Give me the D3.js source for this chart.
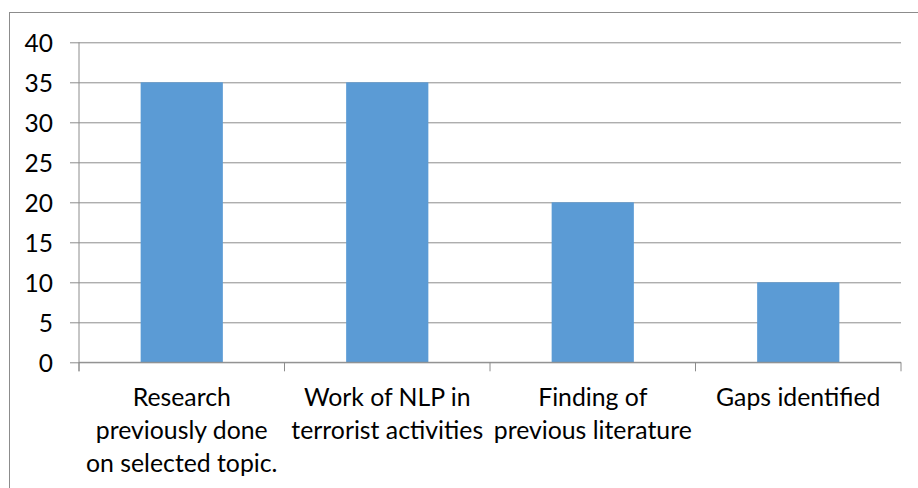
<!DOCTYPE html>
<html>
<head>
<meta charset="utf-8">
<script src="https://cdn.jsdelivr.net/npm/d3@7"></script>
<style>
  html, body { margin: 0; padding: 0; background: #fff; }
  svg { display: block; }
</style>
</head>
<body>
<svg id="chart" width="918" height="488"></svg>
<script>
const categories = [
  "Research previously done on selected topic.",
  "Work of NLP in terrorist activities",
  "Finding of previous literature",
  "Gaps identified"
];
const categoryLabelLines = [
  ["Research", "previously done", "on selected topic."],
  ["Work of NLP in", "terrorist activities"],
  ["Finding of", "previous literature"],
  ["Gaps identified"]
];
const values = [35, 35, 20, 10];
const yTicks = [0, 5, 10, 15, 20, 25, 30, 35, 40];

const svg = d3.select("#chart");
const plot = { left: 79, right: 901, top: 42.3, bottom: 362.3 };
const font = "Lato, 'Open Sans', sans-serif";
const gridColor = "#8c8c8c";

// outer frame (cropped on right & bottom in the reference)
svg.append("rect")
  .attr("x", 9.5).attr("y", 12.5)
  .attr("width", 1200).attr("height", 1200)
  .attr("fill", "#fff")
  .attr("stroke", "#8c8c8c").attr("stroke-width", 1);

const x = d3.scaleBand()
  .domain(categories)
  .range([plot.left, plot.right])
  .paddingInner(0.6)
  .paddingOuter(0.3);

const y = d3.scaleLinear()
  .domain([0, 40])
  .range([plot.bottom, plot.top]);

// gridlines + y ticks
const yAxis = d3.axisLeft(y)
  .tickValues(yTicks)
  .tickSize(-(plot.right - plot.left))
  .tickSizeOuter(0)
  .tickPadding(26)
  .tickFormat(d3.format("d"));

const gy = svg.append("g")
  .attr("transform", `translate(${plot.left},0)`)
  .call(yAxis);
gy.select(".domain").remove();
gy.selectAll(".tick line")
  .attr("x1", -9)
  .attr("stroke", gridColor)
  .attr("stroke-width", 1);
gy.selectAll(".tick text")
  .attr("fill", "#000")
  .style("font-family", font)
  .style("font-size", "24.5px")
  .attr("dy", "0.36em");

// bars
svg.append("g").selectAll("rect")
  .data(categories)
  .join("rect")
  .attr("x", d => x(d))
  .attr("width", x.bandwidth())
  .attr("y", (d, i) => y(values[i]))
  .attr("height", (d, i) => y(0) - y(values[i]))
  .attr("fill", "#5B9BD5");

// y axis line
svg.append("line")
  .attr("x1", plot.left).attr("x2", plot.left)
  .attr("y1", plot.top).attr("y2", plot.bottom + 9)
  .attr("stroke", gridColor).attr("stroke-width", 1);

// x axis line
svg.append("line")
  .attr("x1", plot.left).attr("x2", plot.right)
  .attr("y1", plot.bottom).attr("y2", plot.bottom)
  .attr("stroke", gridColor).attr("stroke-width", 1);

// category boundary ticks
const step = x.step();
const boundaries = d3.range(categories.length + 1).map(i => plot.left + i * step);
svg.append("g").selectAll("line")
  .data(boundaries)
  .join("line")
  .attr("x1", d => d).attr("x2", d => d)
  .attr("y1", plot.bottom).attr("y2", plot.bottom + 9)
  .attr("stroke", gridColor).attr("stroke-width", 1);

// category labels
const labels = svg.append("g")
  .style("font-family", font)
  .style("font-size", "24.8px")
  .attr("fill", "#000")
  .attr("text-anchor", "middle");
categories.forEach((c, i) => {
  const cx = x(c) + x.bandwidth() / 2;
  const t = labels.append("text").attr("x", cx).attr("y", 406);
  categoryLabelLines[i].forEach((line, j) => {
    t.append("tspan").attr("x", cx).attr("dy", j === 0 ? 0 : 33).text(line);
  });
});
</script>
</body>
</html>
